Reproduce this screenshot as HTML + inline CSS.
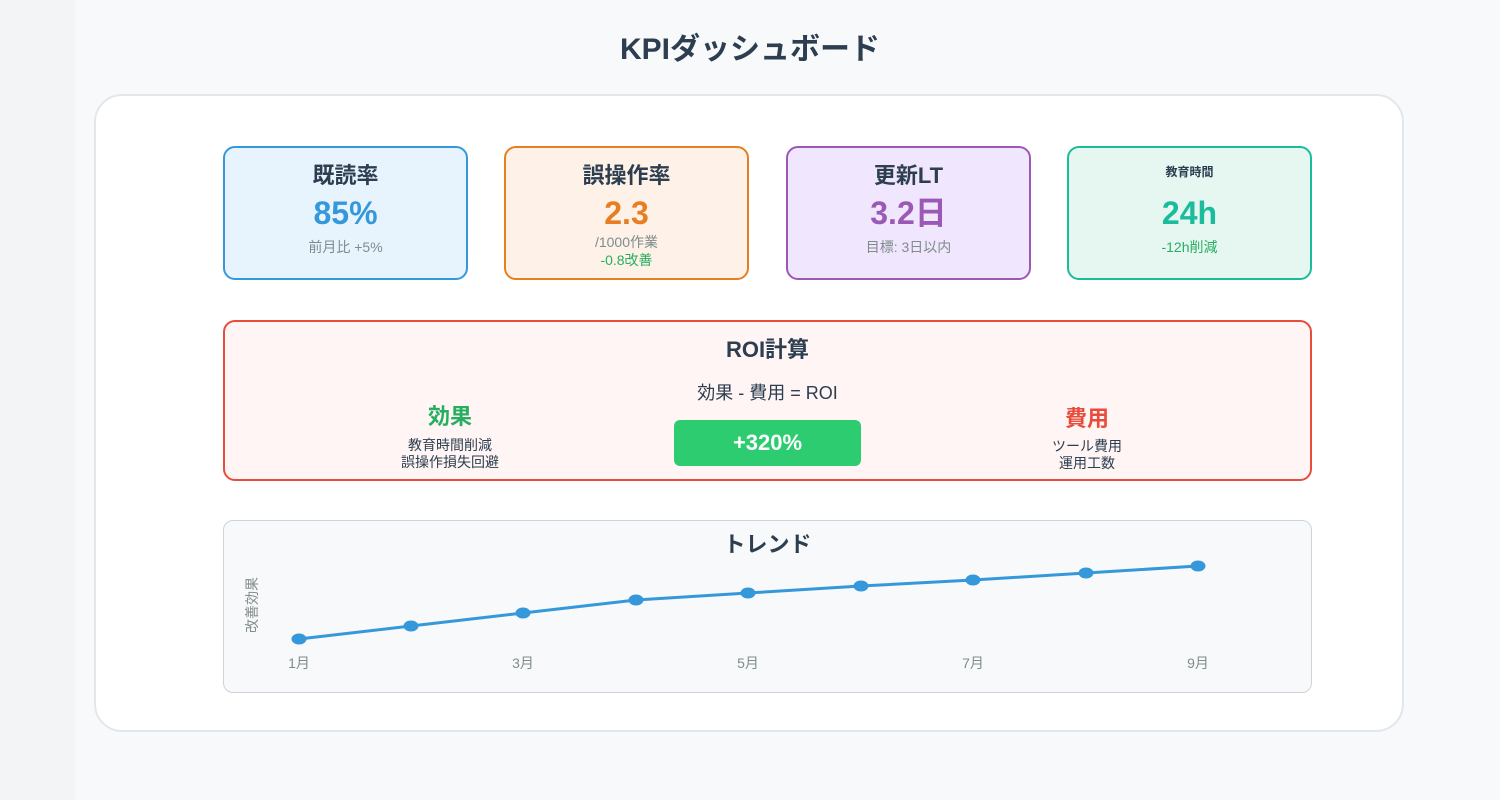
<!DOCTYPE html>
<html><head><meta charset="utf-8"><style>
body{margin:0;width:1500px;height:800px;background:#f8f9fa;font-family:"Liberation Sans","Noto Sans CJK JP",sans-serif;position:relative;overflow:hidden}
.strip{position:absolute;left:0;top:0;width:75px;height:800px;background:#f3f4f5}
.t{position:absolute;left:0;width:1500px;text-align:center}
.panel{position:absolute;left:94px;top:94px;width:1310px;height:638px;background:#fff;border:2px solid #e3e7eb;border-radius:28px;box-sizing:border-box}
.card{position:absolute;top:146px;width:245px;height:134px;border:2px solid;border-radius:12px;box-sizing:border-box;text-align:center}
.abs{position:absolute;left:0;width:100%;text-align:center}
.h{top:14px;font-size:22px;line-height:28px;font-weight:bold;color:#2c3e50}
.v{top:46px;font-size:32px;line-height:38px;font-weight:bold}
</style></head><body>
<div class="strip"></div>
<div class="t" style="top:32px;font-size:30px;line-height:36px;font-weight:bold;color:#2c3e50">KPIダッシュボード</div>
<div class="panel"></div>

<div class="card" style="left:223px;background:#e8f4fd;border-color:#3498db">
 <div class="abs h">既読率</div>
 <div class="abs v" style="color:#3498db">85%</div>
 <div class="abs" style="top:89px;font-size:14px;color:#7f8c8d">前月比 +5%</div>
</div>
<div class="card" style="left:504px;background:#fef1e7;border-color:#e67e22">
 <div class="abs h">誤操作率</div>
 <div class="abs v" style="color:#e67e22">2.3</div>
 <div class="abs" style="top:84px;font-size:14px;color:#7f8c8d">/1000作業</div>
 <div class="abs" style="top:102px;font-size:14px;color:#27ae60">-0.8改善</div>
</div>
<div class="card" style="left:786px;background:#f0e6fd;border-color:#9b59b6">
 <div class="abs h">更新LT</div>
 <div class="abs v" style="color:#9b59b6">3.2日</div>
 <div class="abs" style="top:89px;font-size:14px;color:#7f8c8d">目標: 3日以内</div>
</div>
<div class="card" style="left:1067px;background:#e6f7f2;border-color:#1abc9c">
 <div class="abs" style="top:15px;font-size:12px;font-weight:bold;color:#2c3e50">教育時間</div>
 <div class="abs v" style="color:#1abc9c">24h</div>
 <div class="abs" style="top:89px;font-size:14px;color:#27ae60">-12h削減</div>
</div>

<div style="position:absolute;left:223px;top:320px;width:1089px;height:161px;background:#fef5f4;border:2px solid #e74c3c;border-radius:12px;box-sizing:border-box"></div>
<div class="t" style="left:0;top:336px;font-size:22px;line-height:28px;font-weight:bold;color:#2c3e50;width:1535px">ROI計算</div>
<div class="t" style="top:381px;font-size:18px;line-height:24px;color:#2c3e50;width:1535px">効果 - 費用 = ROI</div>
<div style="position:absolute;left:350px;width:200px;top:402px;line-height:30px;text-align:center;font-size:22px;font-weight:bold;color:#27ae60">効果</div>
<div style="position:absolute;left:350px;width:200px;top:437px;text-align:center;font-size:14px;line-height:17px;color:#2c3e50">教育時間削減<br>誤操作損失回避</div>
<div style="position:absolute;left:674px;top:420px;width:187px;height:46px;background:#2ecc71;border-radius:6px;text-align:center;line-height:46px;color:#fff;font-size:22px;font-weight:bold">+320%</div>
<div style="position:absolute;left:987px;width:200px;top:404px;line-height:30px;text-align:center;font-size:22px;font-weight:bold;color:#e74c3c">費用</div>
<div style="position:absolute;left:987px;width:200px;top:438px;text-align:center;font-size:14px;line-height:17px;color:#2c3e50">ツール費用<br>運用工数</div>

<div style="position:absolute;left:223px;top:520px;width:1089px;height:173px;background:#f8f9fa;border:1.5px solid #ced4da;border-radius:10px;box-sizing:border-box"></div>
<div class="t" style="top:531px;font-size:22px;line-height:28px;font-weight:bold;color:#2c3e50;width:1535px">トレンド</div>
<div style="position:absolute;left:222px;top:597px;width:60px;line-height:16px;transform:rotate(-90deg);text-align:center;font-size:14px;color:#7f8c8d">改善効果</div>
<svg style="position:absolute;left:0;top:0" width="1500" height="800">
<polyline fill="none" stroke="#3498db" stroke-width="3" points="299,639 411,626 523,613 636,600 748,593 861,586 973,580 1086,573 1198,566"/>
<g fill="#3498db">
<ellipse cx="299" cy="639" rx="7.5" ry="5.5"/><ellipse cx="411" cy="626" rx="7.5" ry="5.5"/><ellipse cx="523" cy="613" rx="7.5" ry="5.5"/><ellipse cx="636" cy="600" rx="7.5" ry="5.5"/><ellipse cx="748" cy="593" rx="7.5" ry="5.5"/><ellipse cx="861" cy="586" rx="7.5" ry="5.5"/><ellipse cx="973" cy="580" rx="7.5" ry="5.5"/><ellipse cx="1086" cy="573" rx="7.5" ry="5.5"/><ellipse cx="1198" cy="566" rx="7.5" ry="5.5"/>
</g>
<g font-family="Liberation Sans, Noto Sans CJK JP, sans-serif" font-size="14" fill="#7f8c8d" text-anchor="middle">
<text x="299" y="668">1月</text><text x="523" y="668">3月</text><text x="748" y="668">5月</text><text x="973" y="668">7月</text><text x="1198" y="668">9月</text>
</g>
</svg>
</body></html>
